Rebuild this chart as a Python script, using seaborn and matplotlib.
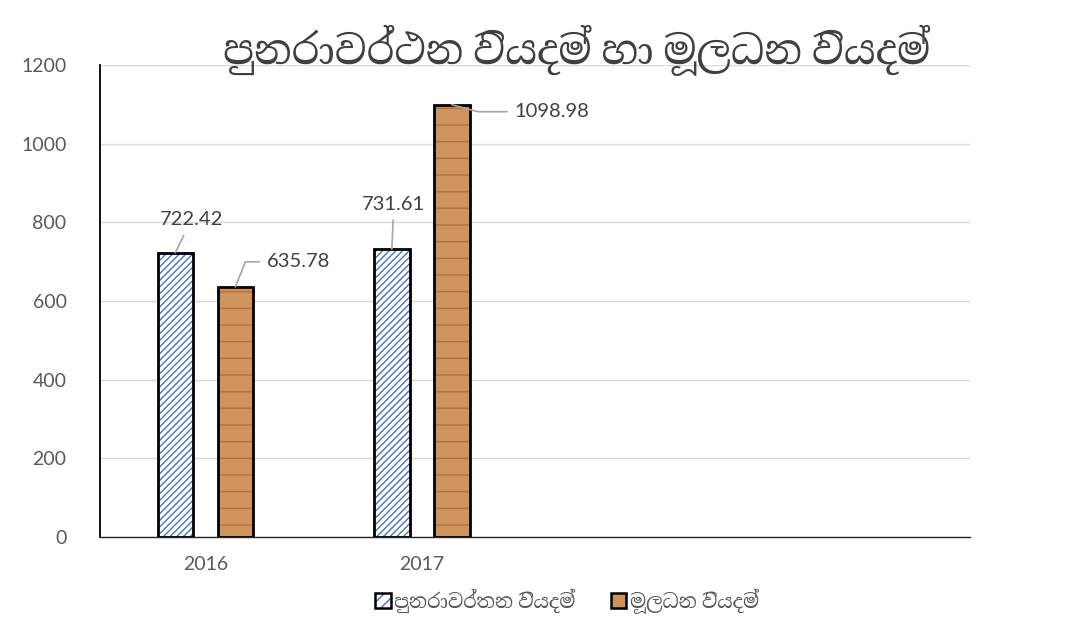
import matplotlib
matplotlib.use("Agg")
import matplotlib.pyplot as plt
from matplotlib import font_manager
from matplotlib.ft2font import FT2Font
from matplotlib.patches import Patch
from matplotlib.legend_handler import HandlerTuple
import seaborn as sns
import pandas as pd
import numpy as np

# ---- data ----
years = ["2016", "2017", " ", "  "]
series_names = ["පුනරාවර්තන වියදම්", "මූලධන වියදම්"]
recurrent = [722.42, 731.61, np.nan, np.nan]
capital = [635.78, 1098.98, np.nan, np.nan]
title_text = "පුනරාවර්ථන වියදම් හා මූලධන වියදම්"
yticks = [0, 200, 400, 600, 800, 1000, 1200]

# ---- find a font with Sinhala glyphs, if any ----
cands = []
for f in font_manager.fontManager.ttflist:
    try:
        ft = FT2Font(f.fname)
        if ft.get_char_index(0x0DB4) and ft.get_char_index(0x0DB8):
            cands.append(f.name)
    except Exception:
        pass

def score(n):
    s = 0
    low = n.lower()
    if "sinhala" in low:
        s -= 10
    if "mono" in low or "unifont" in low or "code" in low:
        s += 10
    return s

cands = sorted(set(cands), key=score)
sinhala_family = cands[0] if cands else None

sns.set_theme(style="white")
fams = ["Lato"] + ([sinhala_family] if sinhala_family else []) + ["DejaVu Sans"]
plt.rcParams["font.family"] = fams

df = pd.DataFrame({
    "year": years * 2,
    "series": [series_names[0]] * len(years) + [series_names[1]] * len(years),
    "value": recurrent + capital,
})

fig = plt.figure(figsize=(10.74, 6.22), dpi=100)
ax = fig.add_axes([0.093, 0.137, 0.81, 0.7585])

BROWN = "#cf935c"
BROWN_DARK = "#b27038"
BLUE = "#4472c4"
palette = {series_names[0]: "white", series_names[1]: BROWN}
sns.barplot(data=df, x="year", y="value", hue="series", order=years,
            hue_order=series_names, palette=palette, width=0.554, gap=0.41,
            saturation=1, ax=ax, legend=False, linewidth=0, errorbar=None, zorder=2)

cont_rec, cont_cap = ax.containers[0], ax.containers[1]
for p in cont_rec:
    p.set_hatch("/////")
    p.set_edgecolor(BLUE)
    p.set_linewidth(0)
for p in cont_cap:
    p.set_hatch("-")
    p.set_edgecolor(BROWN_DARK)
    p.set_linewidth(0)

# outlines
sns.barplot(data=df, x="year", y="value", hue="series", order=years,
            hue_order=series_names, width=0.554, gap=0.41, fill=False,
            ax=ax, legend=False, linewidth=2, edgecolor="black",
            errorbar=None, zorder=3)

ax.set_xlim(-0.487, 3.531)
ax.set_ylim(0, 1200)
ax.set_yticks(yticks)
ax.set_yticklabels([str(v) for v in yticks], fontsize=14, color="#595959")
ax.set_xticks(range(len(years)))
ax.set_xticklabels(years, fontsize=14, color="#595959")
ax.tick_params(axis="y", length=4, width=1, color="#bfbfbf", pad=20, direction="out")
ax.tick_params(axis="x", length=0, pad=14)
ax.set_xlabel("")
ax.set_ylabel("")
ax.yaxis.grid(True, color="#d9d9d9", linewidth=1, zorder=0)
ax.set_axisbelow(True)
for s in ["top", "right"]:
    ax.spines[s].set_visible(False)
ax.spines["left"].set_color("black")
ax.spines["left"].set_linewidth(1.3)
ax.spines["bottom"].set_color("#262626")
ax.spines["bottom"].set_linewidth(1)

# data labels with leader lines
rec_offsets = [(16, 33), (2, 45)]
cap_offsets = [(63, 25), (100, -7)]
rec_styles = ["arc3", "arc3"]
cap_styles = ["angle,angleA=0,angleB=68,rad=0", "angle,angleA=0,angleB=165,rad=0"]
for cont, offs, styles in [(cont_rec, rec_offsets, rec_styles),
                           (cont_cap, cap_offsets, cap_styles)]:
    for p, off, st in zip(list(cont)[:2], offs, styles):
        v = p.get_height()
        if np.isnan(v):
            continue
        x = p.get_x() + p.get_width() / 2
        ax.annotate(f"{v:.2f}", xy=(x, v), xytext=off, textcoords="offset pixels",
                    ha="center", va="center", fontsize=14.5, color="#404040",
                    arrowprops=dict(arrowstyle="-", color="#a6a6a6", lw=1.2,
                                    shrinkA=3, shrinkB=0, connectionstyle=st),
                    zorder=5)

fig.text(0.537, 1 - 50 / 622, title_text, ha="center", va="center",
         fontsize=29, fontweight="bold", color="#404040")

h1 = (Patch(facecolor="white", edgecolor=BLUE, hatch="///", linewidth=0),
      Patch(facecolor="none", edgecolor="black", linewidth=1.8))
h2 = (Patch(facecolor=BROWN, edgecolor=BROWN_DARK, hatch="-", linewidth=0),
      Patch(facecolor="none", edgecolor="black", linewidth=1.8))
leg = fig.legend([h1, h2], series_names, loc="center", bbox_to_anchor=(0.528, 1 - 601 / 622),
                 ncol=2, frameon=False, fontsize=14, handlelength=0.8, handleheight=0.8,
                 columnspacing=1.8, handletextpad=0.2,
                 handler_map={tuple: HandlerTuple(ndivide=1)})
for t in leg.get_texts():
    t.set_color("#595959")

fig.savefig("out.png", dpi=100)
